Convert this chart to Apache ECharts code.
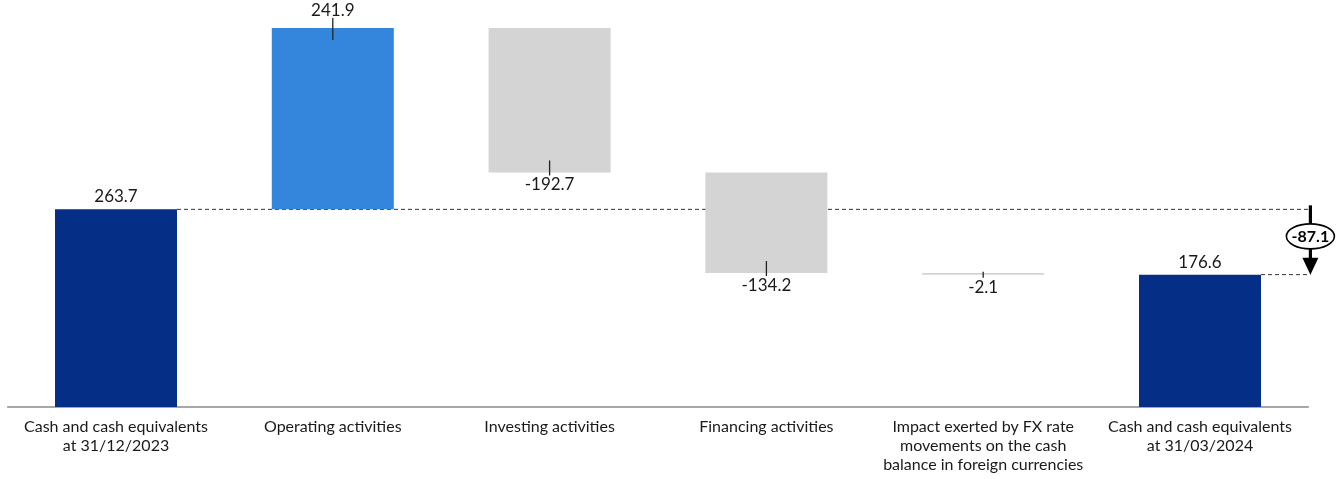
<!DOCTYPE html>
<html>
<head>
<meta charset="utf-8">
<style>
  html, body { margin: 0; padding: 0; background: #fff; }
  #chart { width: 1342px; height: 479px; }
</style>
<script src="https://cdn.jsdelivr.net/npm/echarts@6/dist/echarts.min.js"></script>
</head>
<body>
<div id="chart"></div>
<script>
// Cash flow bridge, Q1 2024 (EUR m)
const categories = [
  'Cash and cash equivalents\nat 31/12/2023',
  'Operating activities',
  'Investing activities',
  'Financing activities',
  'Impact exerted by FX rate\nmovements on the cash\nbalance in foreign currencies',
  'Cash and cash equivalents\nat 31/03/2024'
];
const values = [263.7, 241.9, -192.7, -134.2, -2.1, 176.6];
const isTotal = [true, false, false, false, false, true];

const COLOR_TOTAL = '#052E86';
const COLOR_UP = '#3486DC';
const COLOR_DOWN = '#D4D4D4';
const FONT = 'Lato, "Open Sans", sans-serif';
const BAR_W = 122;

// Invisible base + visible body for each step of the bridge
const baseData = [];
const bodyData = [];
let running = 0;
values.forEach((v, i) => {
  if (isTotal[i]) {
    baseData.push(0);
    bodyData.push(v);
    running = v;
  } else {
    const next = running + v;
    baseData.push(Math.min(running, next));
    bodyData.push(Math.abs(v));
    running = next;
  }
});
const tops = baseData.map((b, i) => b + bodyData[i]);
const opening = values[0];
const closing = values[values.length - 1];
const netChange = closing - opening;

function barColor(i) {
  if (isTotal[i]) return COLOR_TOTAL;
  return values[i] >= 0 ? COLOR_UP : COLOR_DOWN;
}

const chart = echarts.init(document.getElementById('chart'), null, { renderer: 'canvas' });

chart.setOption({
  animation: false,
  grid: { left: 7.6, right: 33.6, top: 0, bottom: 72, containLabel: false },
  xAxis: {
    type: 'category',
    data: categories,
    axisTick: { show: false },
    axisLine: { lineStyle: { color: '#8a8a8a', width: 1.5 } },
    axisLabel: {
      interval: 0, margin: 10, color: '#1a1a1a', fontFamily: FONT, fontSize: 16, lineHeight: 19
    }
  },
  yAxis: { type: 'value', min: 0, max: 543, show: false, splitLine: { show: false } },
  series: [
    {
      // reference lines from the opening and closing balances
      type: 'custom',
      z: 1,
      silent: true,
      data: [[0, 0]],
      renderItem: function (params, api) {
        const band = api.size([1, 0])[0];
        const last = categories.length - 1;
        const xEnd = api.coord([last, 0])[0] + band / 2 + 2;
        const p1 = api.coord([0, opening]);
        const p2 = api.coord([last, closing]);
        const style = { stroke: '#333', lineWidth: 1, lineDash: [4, 3] };
        return {
          type: 'group',
          children: [
            { type: 'line', shape: { x1: p1[0] + BAR_W / 2, y1: p1[1], x2: xEnd, y2: p1[1] }, style: style },
            { type: 'line', shape: { x1: p2[0] + BAR_W / 2, y1: p2[1], x2: xEnd, y2: p2[1] }, style: style }
          ]
        };
      }
    },
    {
      type: 'bar',
      stack: 'bridge',
      barWidth: BAR_W,
      silent: true,
      itemStyle: { color: 'transparent' },
      data: baseData,
      z: 2
    },
    {
      type: 'bar',
      stack: 'bridge',
      barWidth: BAR_W,
      silent: true,
      z: 2,
      data: bodyData.map((h, i) => ({
        value: h,
        itemStyle: { color: barColor(i) },
        label: {
          show: true,
          position: values[i] < 0 ? 'bottom' : 'top',
          distance: values[i] < 0 ? 4 : (isTotal[i] ? 4 : 9),
          formatter: values[i].toFixed(1),
          color: '#1a1a1a',
          fontFamily: FONT,
          fontSize: 17
        }
      }))
    },
    {
      // leader ticks joining change labels to their bars, plus net change callout
      type: 'custom',
      z: 5,
      silent: true,
      data: [[0, 0]],
      renderItem: function (params, api) {
        const band = api.size([1, 0])[0];
        const last = categories.length - 1;
        const xEnd = api.coord([last, 0])[0] + band / 2 + 2;
        const children = [];
        values.forEach((v, i) => {
          if (isTotal[i]) return;
          if (v >= 0) {
            const p = api.coord([i, tops[i]]);
            children.push({ type: 'line', shape: { x1: p[0], y1: p[1] - 10, x2: p[0], y2: p[1] + 12 },
              style: { stroke: '#222', lineWidth: 1.3 } });
          } else {
            const p = api.coord([i, baseData[i]]);
            const len = Math.abs(v) < 10 ? 3 : 12;
            children.push({ type: 'line', shape: { x1: p[0], y1: p[1] - len, x2: p[0], y2: p[1] + 3 },
              style: { stroke: '#222', lineWidth: 1.3 } });
          }
        });
        const y1 = api.coord([0, opening])[1];
        const y2 = api.coord([last, closing])[1];
        children.push({ type: 'line', shape: { x1: xEnd, y1: y1 - 4, x2: xEnd, y2: y2 - 14 },
          style: { stroke: '#000', lineWidth: 3.2 } });
        children.push({ type: 'polygon', shape: { points: [[xEnd - 8, y2 - 17], [xEnd + 8, y2 - 17], [xEnd, y2]] },
          style: { fill: '#000' } });
        children.push({ type: 'ellipse', shape: { cx: xEnd, cy: y1 + 27, rx: 24, ry: 12.5 },
          style: { fill: '#fff', stroke: '#000', lineWidth: 1.6 } });
        children.push({ type: 'text', x: xEnd, y: y1 + 27,
          style: { text: netChange.toFixed(1), fill: '#000', font: 'bold 16px ' + FONT, align: 'center', verticalAlign: 'middle' } });
        return { type: 'group', children: children };
      }
    }
  ]
});
</script>
</body>
</html>
